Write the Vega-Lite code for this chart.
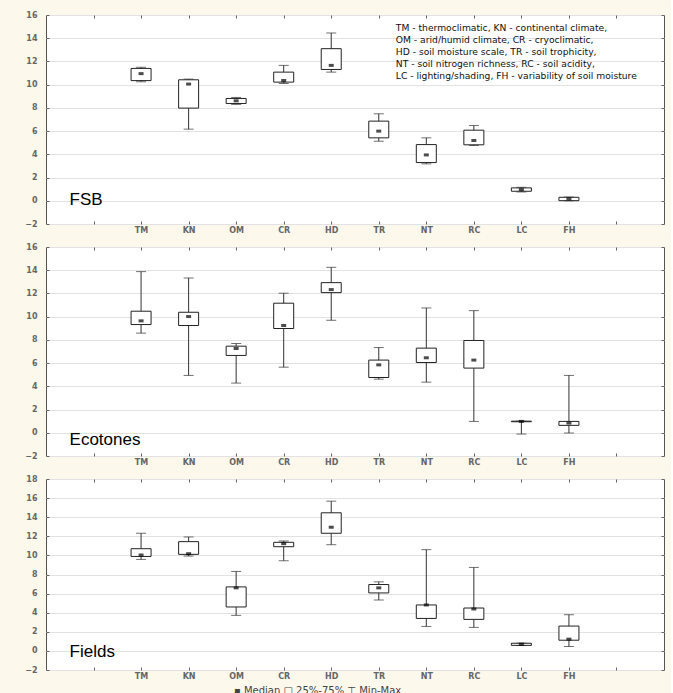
{
  "$schema": "https://vega.github.io/schema/vega-lite/v6.json",
  "background": "#fcf8ec",
  "padding": {"left": 24, "top": 10, "right": 6, "bottom": 4},
  "config": {
    "view": {"stroke": "#555555", "strokeWidth": 1, "fill": "white"},
    "axis": {"labelFont": "DejaVu Sans", "labelFontSize": 8, "labelFontWeight": "bold", "labelColor": "#666666", "tickColor": "#666666", "domain": false, "title": null}
  },
  "datasets": {
    "boxes": [
      {"panel": "FSB", "cat": "TM", "min": 10.25, "q1": 10.35, "median": 10.95, "q3": 11.4, "max": 11.5},
      {"panel": "FSB", "cat": "KN", "min": 6.17, "q1": 7.98, "median": 10.05, "q3": 10.42, "max": 10.48},
      {"panel": "FSB", "cat": "OM", "min": 8.3, "q1": 8.38, "median": 8.61, "q3": 8.81, "max": 8.9},
      {"panel": "FSB", "cat": "CR", "min": 10.1, "q1": 10.22, "median": 10.36, "q3": 11.08, "max": 11.66},
      {"panel": "FSB", "cat": "HD", "min": 11.08, "q1": 11.31, "median": 11.66, "q3": 13.1, "max": 14.45},
      {"panel": "FSB", "cat": "TR", "min": 5.13, "q1": 5.42, "median": 6.0, "q3": 6.86, "max": 7.49},
      {"panel": "FSB", "cat": "NT", "min": 3.18, "q1": 3.29, "median": 3.95, "q3": 4.84, "max": 5.42},
      {"panel": "FSB", "cat": "RC", "min": 4.76, "q1": 4.82, "median": 5.19, "q3": 6.08, "max": 6.48},
      {"panel": "FSB", "cat": "LC", "min": 0.76, "q1": 0.82, "median": 0.96, "q3": 1.11, "max": 1.16},
      {"panel": "FSB", "cat": "FH", "min": 0.0, "q1": 0.01, "median": 0.16, "q3": 0.3, "max": 0.32},
      {"panel": "Ecotones", "cat": "TM", "min": 8.58, "q1": 9.32, "median": 9.64, "q3": 10.47, "max": 13.88},
      {"panel": "Ecotones", "cat": "KN", "min": 4.94, "q1": 9.24, "median": 10.01, "q3": 10.38, "max": 13.33},
      {"panel": "Ecotones", "cat": "OM", "min": 4.28, "q1": 6.66, "median": 7.26, "q3": 7.46, "max": 7.69},
      {"panel": "Ecotones", "cat": "CR", "min": 5.65, "q1": 8.98, "median": 9.24, "q3": 11.16, "max": 12.02},
      {"panel": "Ecotones", "cat": "HD", "min": 9.69, "q1": 12.07, "median": 12.33, "q3": 12.93, "max": 14.25},
      {"panel": "Ecotones", "cat": "TR", "min": 4.62, "q1": 4.76, "median": 5.85, "q3": 6.26, "max": 7.34},
      {"panel": "Ecotones", "cat": "NT", "min": 4.36, "q1": 6.05, "median": 6.46, "q3": 7.29, "max": 10.75},
      {"panel": "Ecotones", "cat": "RC", "min": 0.98, "q1": 5.57, "median": 6.26, "q3": 7.95, "max": 10.52},
      {"panel": "Ecotones", "cat": "LC", "min": -0.11, "q1": 0.95, "median": 0.98, "q3": 1.0, "max": 1.0},
      {"panel": "Ecotones", "cat": "FH", "min": -0.02, "q1": 0.64, "median": 0.84, "q3": 0.98, "max": 4.94},
      {"panel": "Fields", "cat": "TM", "min": 9.58, "q1": 9.89, "median": 10.04, "q3": 10.7, "max": 12.32},
      {"panel": "Fields", "cat": "KN", "min": 9.93, "q1": 10.11, "median": 10.18, "q3": 11.44, "max": 11.93},
      {"panel": "Fields", "cat": "OM", "min": 3.72, "q1": 4.6, "median": 6.6, "q3": 6.7, "max": 8.32},
      {"panel": "Fields", "cat": "CR", "min": 9.44, "q1": 10.91, "median": 11.23, "q3": 11.37, "max": 11.51},
      {"panel": "Fields", "cat": "HD", "min": 11.12, "q1": 12.32, "median": 12.95, "q3": 14.46, "max": 15.68},
      {"panel": "Fields", "cat": "TR", "min": 5.33, "q1": 6.07, "median": 6.6, "q3": 6.95, "max": 7.23},
      {"panel": "Fields", "cat": "NT", "min": 2.56, "q1": 3.4, "median": 4.81, "q3": 4.81, "max": 10.6},
      {"panel": "Fields", "cat": "RC", "min": 2.46, "q1": 3.3, "median": 4.39, "q3": 4.49, "max": 8.74},
      {"panel": "Fields", "cat": "LC", "min": 0.56, "q1": 0.58, "median": 0.7, "q3": 0.8, "max": 0.81},
      {"panel": "Fields", "cat": "FH", "min": 0.46, "q1": 1.12, "median": 1.23, "q3": 2.6, "max": 3.79}
    ],
    "labels": [
      {"panel": "FSB", "cat": " ", "y": 0.1, "text": "FSB"},
      {"panel": "Ecotones", "cat": " ", "y": -0.6, "text": "Ecotones"},
      {"panel": "Fields", "cat": " ", "y": -0.1, "text": "Fields"}
    ],
    "notes": [
      {"panel": "FSB", "cat": "TR", "y": 15.2, "text": "TM - thermoclimatic, KN - continental climate,\nOM - arid/humid climate, CR - cryoclimatic,\nHD - soil moisture scale, TR - soil trophicity,\nNT - soil nitrogen richness, RC - soil acidity,\nLC - lighting/shading, FH - variability of soil moisture"}
    ]
  },
  "title": {"text": "▪ Median  □ 25%-75%  ⊤ Min-Max", "orient": "bottom", "anchor": "middle", "dx": -27, "font": "DejaVu Sans", "fontSize": 10, "fontWeight": "normal", "color": "#444444", "offset": 5},
  "spacing": 23,
  "bounds": "flush",
  "vconcat": [
    {
      "width": 618, "height": 209,
      "resolve": {"axis": {"x": "independent", "y": "independent"}},
      "layer": [
        {
          "data": {"name": "boxes"},
          "transform": [{"filter": "datum.panel === 'FSB'"}],
          "mark": {"type": "rule", "color": "#333333", "strokeWidth": 1},
          "encoding": {
            "x": {"field": "cat", "type": "nominal", "scale": {"type": "point", "domain": [" ", "TM", "KN", "OM", "CR", "HD", "TR", "NT", "RC", "LC", "FH", "  "], "padding": 1}, "axis": {"orient": "bottom", "labelAngle": 0, "tickSize": -3, "labelPadding": 5}},
            "y": {"field": "min", "type": "quantitative", "scale": {"domain": [-2, 16], "nice": false, "zero": false}, "axis": {"orient": "left", "values": [-2, 0, 2, 4, 6, 8, 10, 12, 14, 16], "grid": true, "gridColor": "#e2e2e2", "tickSize": -3, "labelPadding": 12}},
            "y2": {"field": "max"}
          }
        },
        {
          "data": {"name": "boxes"},
          "transform": [{"filter": "datum.panel === 'FSB'"}],
          "mark": {"type": "tick", "color": "#333333", "size": 10, "thickness": 1},
          "encoding": {
            "x": {"field": "cat", "type": "nominal", "axis": {"orient": "top", "labels": false, "tickSize": -3, "grid": false}},
            "y": {"field": "max", "type": "quantitative", "axis": {"orient": "right", "labels": false, "tickSize": -3, "grid": false, "values": [-2, 0, 2, 4, 6, 8, 10, 12, 14, 16]}}
          }
        },
        {
          "data": {"name": "boxes"},
          "transform": [{"filter": "datum.panel === 'FSB'"}],
          "mark": {"type": "tick", "color": "#333333", "size": 10, "thickness": 1},
          "encoding": {
            "x": {"field": "cat", "type": "nominal", "axis": null},
            "y": {"field": "min", "type": "quantitative", "axis": null}
          }
        },
        {
          "data": {"name": "boxes"},
          "transform": [{"filter": "datum.panel === 'FSB'"}],
          "mark": {"type": "bar", "fill": "white", "stroke": "#222222", "strokeWidth": 1, "size": 20},
          "encoding": {
            "x": {"field": "cat", "type": "nominal", "axis": null},
            "y": {"field": "q1", "type": "quantitative", "axis": null},
            "y2": {"field": "q3"}
          }
        },
        {
          "data": {"name": "boxes"},
          "transform": [{"filter": "datum.panel === 'FSB'"}],
          "mark": {"type": "tick", "color": "black", "size": 5, "thickness": 3},
          "encoding": {
            "x": {"field": "cat", "type": "nominal", "axis": null},
            "y": {"field": "median", "type": "quantitative", "axis": null}
          }
        },
        {
          "data": {"name": "labels"},
          "transform": [{"filter": "datum.panel === 'FSB'"}],
          "mark": {"type": "text", "align": "left", "baseline": "middle", "font": "Liberation Sans", "fontSize": 17, "dx": -24, "color": "black"},
          "encoding": {
            "x": {"field": "cat", "type": "nominal", "axis": null},
            "y": {"field": "y", "type": "quantitative", "axis": null},
            "text": {"field": "text"}
          }
        },
        {
          "data": {"name": "notes"},
          "mark": {"type": "text", "align": "left", "baseline": "top", "font": "DejaVu Sans", "fontSize": 9.2, "lineHeight": 12, "lineBreak": "\n", "dx": 17, "color": "#111111"},
          "encoding": {
            "x": {"field": "cat", "type": "nominal", "axis": null},
            "y": {"field": "y", "type": "quantitative", "axis": null},
            "text": {"field": "text"}
          }
        }
      ]
    },
    {
      "width": 618, "height": 209,
      "resolve": {"axis": {"x": "independent", "y": "independent"}},
      "layer": [
        {
          "data": {"name": "boxes"},
          "transform": [{"filter": "datum.panel === 'Ecotones'"}],
          "mark": {"type": "rule", "color": "#333333", "strokeWidth": 1},
          "encoding": {
            "x": {"field": "cat", "type": "nominal", "scale": {"type": "point", "domain": [" ", "TM", "KN", "OM", "CR", "HD", "TR", "NT", "RC", "LC", "FH", "  "], "padding": 1}, "axis": {"orient": "bottom", "labelAngle": 0, "tickSize": -3, "labelPadding": 5}},
            "y": {"field": "min", "type": "quantitative", "scale": {"domain": [-2, 16], "nice": false, "zero": false}, "axis": {"orient": "left", "values": [-2, 0, 2, 4, 6, 8, 10, 12, 14, 16], "grid": true, "gridColor": "#e2e2e2", "tickSize": -3, "labelPadding": 12}},
            "y2": {"field": "max"}
          }
        },
        {
          "data": {"name": "boxes"},
          "transform": [{"filter": "datum.panel === 'Ecotones'"}],
          "mark": {"type": "tick", "color": "#333333", "size": 10, "thickness": 1},
          "encoding": {
            "x": {"field": "cat", "type": "nominal", "axis": {"orient": "top", "labels": false, "tickSize": -3, "grid": false}},
            "y": {"field": "max", "type": "quantitative", "axis": {"orient": "right", "labels": false, "tickSize": -3, "grid": false, "values": [-2, 0, 2, 4, 6, 8, 10, 12, 14, 16]}}
          }
        },
        {
          "data": {"name": "boxes"},
          "transform": [{"filter": "datum.panel === 'Ecotones'"}],
          "mark": {"type": "tick", "color": "#333333", "size": 10, "thickness": 1},
          "encoding": {
            "x": {"field": "cat", "type": "nominal", "axis": null},
            "y": {"field": "min", "type": "quantitative", "axis": null}
          }
        },
        {
          "data": {"name": "boxes"},
          "transform": [{"filter": "datum.panel === 'Ecotones'"}],
          "mark": {"type": "bar", "fill": "white", "stroke": "#222222", "strokeWidth": 1, "size": 20},
          "encoding": {
            "x": {"field": "cat", "type": "nominal", "axis": null},
            "y": {"field": "q1", "type": "quantitative", "axis": null},
            "y2": {"field": "q3"}
          }
        },
        {
          "data": {"name": "boxes"},
          "transform": [{"filter": "datum.panel === 'Ecotones'"}],
          "mark": {"type": "tick", "color": "black", "size": 5, "thickness": 3},
          "encoding": {
            "x": {"field": "cat", "type": "nominal", "axis": null},
            "y": {"field": "median", "type": "quantitative", "axis": null}
          }
        },
        {
          "data": {"name": "labels"},
          "transform": [{"filter": "datum.panel === 'Ecotones'"}],
          "mark": {"type": "text", "align": "left", "baseline": "middle", "font": "Liberation Sans", "fontSize": 17, "dx": -24, "color": "black"},
          "encoding": {
            "x": {"field": "cat", "type": "nominal", "axis": null},
            "y": {"field": "y", "type": "quantitative", "axis": null},
            "text": {"field": "text"}
          }
        }
      ]
    },
    {
      "width": 618, "height": 191,
      "resolve": {"axis": {"x": "independent", "y": "independent"}},
      "layer": [
        {
          "data": {"name": "boxes"},
          "transform": [{"filter": "datum.panel === 'Fields'"}],
          "mark": {"type": "rule", "color": "#333333", "strokeWidth": 1},
          "encoding": {
            "x": {"field": "cat", "type": "nominal", "scale": {"type": "point", "domain": [" ", "TM", "KN", "OM", "CR", "HD", "TR", "NT", "RC", "LC", "FH", "  "], "padding": 1}, "axis": {"orient": "bottom", "labelAngle": 0, "tickSize": -3, "labelPadding": 5}},
            "y": {"field": "min", "type": "quantitative", "scale": {"domain": [-2, 18], "nice": false, "zero": false}, "axis": {"orient": "left", "values": [-2, 0, 2, 4, 6, 8, 10, 12, 14, 16, 18], "grid": true, "gridColor": "#e2e2e2", "tickSize": -3, "labelPadding": 12}},
            "y2": {"field": "max"}
          }
        },
        {
          "data": {"name": "boxes"},
          "transform": [{"filter": "datum.panel === 'Fields'"}],
          "mark": {"type": "tick", "color": "#333333", "size": 10, "thickness": 1},
          "encoding": {
            "x": {"field": "cat", "type": "nominal", "axis": {"orient": "top", "labels": false, "tickSize": -3, "grid": false}},
            "y": {"field": "max", "type": "quantitative", "axis": {"orient": "right", "labels": false, "tickSize": -3, "grid": false, "values": [-2, 0, 2, 4, 6, 8, 10, 12, 14, 16, 18]}}
          }
        },
        {
          "data": {"name": "boxes"},
          "transform": [{"filter": "datum.panel === 'Fields'"}],
          "mark": {"type": "tick", "color": "#333333", "size": 10, "thickness": 1},
          "encoding": {
            "x": {"field": "cat", "type": "nominal", "axis": null},
            "y": {"field": "min", "type": "quantitative", "axis": null}
          }
        },
        {
          "data": {"name": "boxes"},
          "transform": [{"filter": "datum.panel === 'Fields'"}],
          "mark": {"type": "bar", "fill": "white", "stroke": "#222222", "strokeWidth": 1, "size": 20},
          "encoding": {
            "x": {"field": "cat", "type": "nominal", "axis": null},
            "y": {"field": "q1", "type": "quantitative", "axis": null},
            "y2": {"field": "q3"}
          }
        },
        {
          "data": {"name": "boxes"},
          "transform": [{"filter": "datum.panel === 'Fields'"}],
          "mark": {"type": "tick", "color": "black", "size": 5, "thickness": 3},
          "encoding": {
            "x": {"field": "cat", "type": "nominal", "axis": null},
            "y": {"field": "median", "type": "quantitative", "axis": null}
          }
        },
        {
          "data": {"name": "labels"},
          "transform": [{"filter": "datum.panel === 'Fields'"}],
          "mark": {"type": "text", "align": "left", "baseline": "middle", "font": "Liberation Sans", "fontSize": 17, "dx": -24, "color": "black"},
          "encoding": {
            "x": {"field": "cat", "type": "nominal", "axis": null},
            "y": {"field": "y", "type": "quantitative", "axis": null},
            "text": {"field": "text"}
          }
        }
      ]
    }
  ]
}
